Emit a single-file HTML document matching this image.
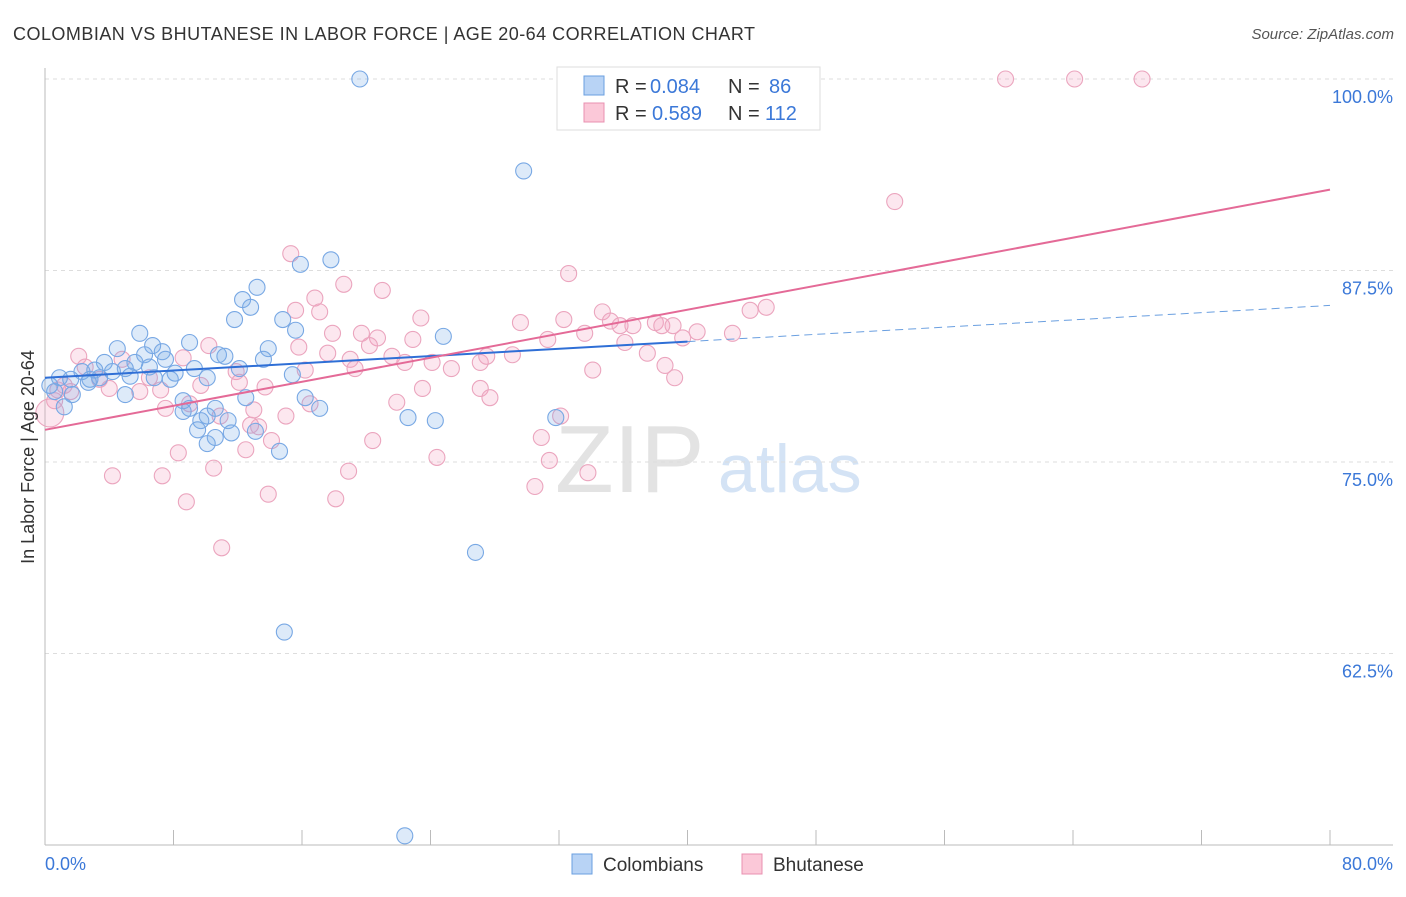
<!DOCTYPE html>
<html><head><meta charset="utf-8"><style>
body{margin:0;background:#fff;font-family:"Liberation Sans",sans-serif}
svg text{font-family:"Liberation Sans",sans-serif}
</style></head><body>
<svg id="chart" width="1406" height="892">
<text x="13" y="40" font-size="18" fill="#333" textLength="742" lengthAdjust="spacing">COLOMBIAN VS BHUTANESE IN LABOR FORCE | AGE 20-64 CORRELATION CHART</text>
<text x="1394" y="39" font-size="15" fill="#555" font-style="italic" text-anchor="end">Source: ZipAtlas.com</text>
<text x="555" y="492" font-size="96" fill="#e3e3e3" font-family="Liberation Serif">ZIP</text>
<text x="718" y="492" font-size="68" fill="#d4e3f5">atlas</text>
<g id="grid"></g><g id="axes"></g><g id="marks"></g>
<text transform="translate(34,457) rotate(-90)" font-size="18" fill="#333" text-anchor="middle">In Labor Force | Age 20-64</text>
<g>
<rect x="557" y="67" width="263" height="63" fill="#fff" stroke="#ddd"/>
<rect x="584" y="76" width="20" height="19" fill="#b8d3f5" stroke="#6a9fe0"/>
<rect x="584" y="103" width="20" height="19" fill="#fbc8d8" stroke="#e890b0"/>
<text x="615" y="93" font-size="20" fill="#333">R =</text>
<text x="650" y="93" font-size="20" fill="#3b78d8">0.084</text>
<text x="728" y="93" font-size="20" fill="#333">N =</text>
<text x="769" y="93" font-size="20" fill="#3b78d8">86</text>
<text x="615" y="120" font-size="20" fill="#333">R =</text>
<text x="652" y="120" font-size="20" fill="#3b78d8">0.589</text>
<text x="728" y="120" font-size="20" fill="#333">N =</text>
<text x="765" y="120" font-size="20" fill="#3b78d8">112</text>
</g>
<g>
<rect x="572" y="854" width="20" height="20" fill="#b8d3f5" stroke="#6a9fe0"/>
<text x="603" y="871" font-size="19" fill="#333">Colombians</text>
<rect x="742" y="854" width="20" height="20" fill="#fbc8d8" stroke="#e890b0"/>
<text x="773" y="871" font-size="19" fill="#333">Bhutanese</text>
</g>
</svg>
<script>
const yTicks=[100,87.5,75,62.5];
const yTickLabels=["100.0%","87.5%","75.0%","62.5%"];
const blueX=[19.6,32.6,29.8,15.9,17.8,13.2,12.3,12.8,11.8,14.8,15.6,24.8,5.9,9.0,4.5,6.7,7.3,6.2,13.9,13.6,10.8,11.2,3.7,5.6,7.5,2.3,3.1,4.2,5.0,6.5,8.1,9.3,12.1,15.4,0.9,1.6,2.8,3.4,5.3,6.8,7.8,10.1,0.3,0.6,1.7,5.0,1.2,8.6,9.0,10.1,10.6,11.4,9.7,12.5,16.2,17.1,22.6,24.3,31.8,9.5,10.6,11.6,13.1,10.1,14.6,26.8,14.9,22.4,8.6,2.7];
const blueY=[100,100,94.0,87.9,88.2,86.4,85.6,85.1,84.3,84.3,83.6,83.2,83.4,82.8,82.4,82.6,82.2,82.0,82.4,81.7,82.0,81.9,81.5,81.5,81.7,80.9,81.0,80.9,81.1,81.2,80.8,81.1,81.1,80.7,80.5,80.4,80.4,80.5,80.6,80.5,80.4,80.5,80.0,79.6,79.4,79.4,78.6,79.0,78.5,78.0,78.5,77.7,77.7,79.2,79.2,78.5,77.9,77.7,77.9,77.1,76.6,76.9,77.0,76.2,75.7,69.1,63.9,50.6,78.3,80.2];
const pinkX=[59.8,64.1,68.3,52.9,15.3,32.6,18.6,21.0,16.8,15.6,17.1,23.4,29.6,32.3,34.7,35.2,35.8,36.6,38.0,38.4,39.1,40.6,39.7,42.8,43.9,44.9,22.9,20.7,19.7,17.9,20.2,15.8,17.6,10.2,8.6,2.1,21.6,19.0,22.4,24.1,19.3,25.3,27.1,27.5,29.1,31.3,33.6,36.1,37.5,38.6,39.2,34.1,16.2,11.9,12.1,13.7,4.8,6.5,2.5,3.4,4.0,5.9,7.2,9.7,23.5,27.1,27.7,21.9,16.5,9.0,7.5,13.0,15.0,10.9,12.8,13.3,32.1,20.4,30.9,14.1,12.5,8.3,24.4,31.4,18.9,4.2,7.3,33.8,10.5,30.5,13.9,18.1,8.8,11.0,0.3,0.6,1.2,1.6,0.8];
const pinkY=[100,100,100,92.0,88.6,87.3,86.6,86.2,85.7,84.9,84.8,84.4,84.1,84.3,84.8,84.2,83.9,83.9,84.1,83.9,83.9,83.5,83.1,83.4,84.9,85.1,83.0,83.1,83.4,83.4,82.6,82.5,82.1,82.6,81.8,81.9,81.9,81.7,81.5,81.5,81.1,81.1,81.5,81.9,82.0,83.0,83.4,82.8,82.1,81.3,80.5,81.0,81.0,80.9,80.2,79.9,81.7,80.5,81.2,80.4,79.8,79.6,79.7,80.0,79.8,79.8,79.2,78.9,78.8,78.8,78.5,78.4,78.0,78.0,77.4,77.3,78.0,76.4,76.6,76.4,75.8,75.6,75.3,75.1,74.4,74.1,74.1,74.3,74.6,73.4,72.9,72.6,72.4,69.4,78.2,79.0,80.0,79.6,79.7];
const blueTrend=[80.5,0.059];
const pinkTrend=[77.1,0.196];
const NS="http://www.w3.org/2000/svg";
const X=v=>45+v/80*1285;
const Y=v=>79+(100-v)/12.5*191.5;
function mk(tag,attrs,parent){const e=document.createElementNS(NS,tag);for(const k in attrs)e.setAttribute(k,attrs[k]);parent.appendChild(e);return e;}
const grid=document.getElementById('grid'),axes=document.getElementById('axes'),marks=document.getElementById('marks');
yTicks.forEach((t,i)=>{
 const l=mk('line',{x1:45,x2:1393,y1:Y(t),y2:Y(t),stroke:'#ddd','stroke-dasharray':'4,4'},grid);
 
 
 const tx=mk('text',{x:1393,y:Y(t)+24,'font-size':18,fill:'#3b78d8','text-anchor':'end'},axes);
 tx.textContent=yTickLabels[i];
 
 
});
mk('line',{x1:45,x2:45,y1:68,y2:845,stroke:'#bbb'},axes);
mk('line',{x1:45,x2:1393,y1:845,y2:845,stroke:'#bbb'},axes);
for(let i=0;i<=10;i++){mk('line',{x1:X(i*8),x2:X(i*8),y1:830,y2:845,stroke:'#bbb'},axes);}
const x0=mk('text',{x:45,y:870,'font-size':18,fill:'#3b78d8'},axes);x0.textContent='0.0%';


const x1=mk('text',{x:1393,y:870,'font-size':18,fill:'#3b78d8','text-anchor':'end'},axes);x1.textContent='80.0%';


pinkX.forEach((v,i)=>{const c=mk('circle',{cx:X(v),cy:Y(pinkY[i]),r:i==94?14:8,fill:'rgba(245,160,190,0.25)',stroke:'#eba5be','stroke-width':1.1},marks);
 
 });
blueX.forEach((v,i)=>{const c=mk('circle',{cx:X(v),cy:Y(blueY[i]),r:8,fill:'rgba(120,170,230,0.25)',stroke:'#78a8e4','stroke-width':1.1},marks);
 
 });
const bl=mk('line',{x1:X(0),y1:Y(blueTrend[0]),x2:X(40),y2:Y(blueTrend[0]+40*blueTrend[1]),stroke:'#2f6fd6','stroke-width':2},marks);


const bd=mk('line',{x1:X(40),y1:Y(blueTrend[0]+40*blueTrend[1]),x2:X(80),y2:Y(blueTrend[0]+80*blueTrend[1]),stroke:'#6a9fe0','stroke-width':1,'stroke-dasharray':'8,5'},marks);


const pl=mk('line',{x1:X(0),y1:Y(pinkTrend[0]),x2:X(80),y2:Y(pinkTrend[0]+80*pinkTrend[1]),stroke:'#e46a97','stroke-width':2},marks);


</script>
</body></html>
